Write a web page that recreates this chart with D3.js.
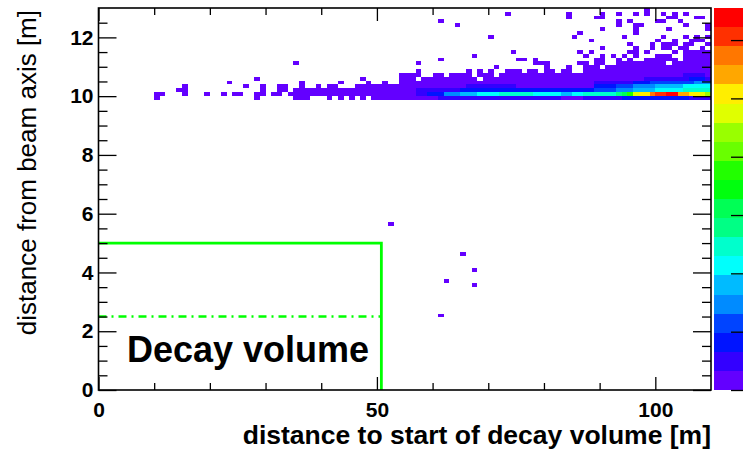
<!DOCTYPE html>
<html><head><meta charset="utf-8">
<script src="https://cdn.jsdelivr.net/npm/d3@7"></script>
<style>html,body{margin:0;padding:0;background:#fff;overflow:hidden}svg{display:block}</style>
</head><body><svg id="c" width="743" height="453"></svg>
<script>
// ---------------- data ----------------
const xDomain = [0, 110];          // distance to start of decay volume [m]
const yDomain = [0, 13];           // distance from beam axis [m]
const nBinsX = 110;                // 1 m bins
const nBinsY = 100;                // 0.13 m bins
const xMajorTicks = [0, 50, 100];
const xMinorTicks = [10, 20, 30, 40, 60, 70, 80, 90];
const yMajorTicks = [0, 2, 4, 6, 8, 10, 12];
const yMinorTicks = [0.5, 1, 1.5, 2.5, 3, 3.5, 4.5, 5, 5.5, 6.5, 7, 7.5, 8.5, 9, 9.5, 10.5, 11, 11.5, 12.5];
const nLevels = 20;                // colour contours of the z axis
const zMax = 655;
const zTicks = [0, 100, 200, 300, 400, 500, 600];
const decayLength = 50.8;          // green box: decay volume
const decayRadius = 5;
const innerRadius = 2.5;
const boxLabel = "Decay volume";
const xTitle = "distance to start of decay volume [m]";
const yTitle = "distance from beam axis [m]";

// y bin index of each row, and the colour level (1..20, base 36, '.' = empty) of x bins 0..109
const rowBins = [19, 27, 28, 31, 35, 43,
  76, 77, 78, 79, 80, 81, 82, 83, 84, 85, 86, 87, 88, 89, 90, 91, 92, 93, 94, 95, 96, 97, 98, 99];
const rowLevels = [
  ".......... .......... .......... .......... .......... .......... .1........ .......... .......... .......... ..........",
  ".......... .......... .......... .......... .......... .......... .......1.. .......... .......... .......... ..........",
  ".......... .......... .......... .......... .......... .......... ..1....... .......... .......... .......... ..........",
  ".......... .......... .......... .......... .......... .......... .......1.. .......... .......... .......... ..........",
  ".......... .......... .......... .......... .......... .......... .....1.... .......... .......... .......... ..........",
  ".......... .......... .......... .......... .......... ..1....... .......... .......... .......... .......... ..........",
  // 76
  ".......... 1......... ........1. .....111.. .1.1.1.1.1 1111111111 1222222222 2222222222 2221111222 2222333333 3333332222",
  // 77
  ".......... 11...1...1 ..1.11..11 .11.111111 1111111111 1111111223 3355566677 7788888877 7776677888 8889acfggi jjkkhhggfe",
  // 78
  ".......... ....11.... .........1 ..11.11111 1111111111 1111111222 2222233333 3333333333 3333333334 4445556666 7777788888",
  // 79
  ".......... .....1.... ......1..1 ..11..1..1 .11...1111 1111111111 1111112222 2222211111 1111111113 3334445555 6666677777",
  // 80
  ".......... .......... ...1...... ......1... ...1....1. .1..111111 1111111111 1111111111 1111111112 2222223334 4444444555",
  // 81
  ".......... .......... ........1. .......... .......1.. ....111.11 11111111.1 1111111111 1111111111 1111111122 2222223332",
  // 82
  ".......... .......... .......... .......... .......... ....1111.. 11.1111.11 1.11111111 1111111111 1111111111 1111122221",
  // 83
  ".......... .......... .......... .......... .......... .......1.. ......1.1. 1..111.11. 11.11..111 1111111111 1111111111",
  // 84
  ".......... .......... .......... .......... .......... .......... .......... .1........ 1...1..111 .111111111 1111111111",
  // 85
  ".......... .......... .......... .....1.... .......... .......1.. .......... ........11 1.....11.1 1..1111111 11.1111111",
  // 86
  ".......... .......... .......... .......... .......... .......... .1........ .....11.1. .........1 1..1.1..11 1111.11111",
  // 87
  ".......... .......... .......... .......... .......... .......... .......1.. .......... .......1.. 1.1.1.1... 111..11111",
  // 88
  ".......... .......... .......... .......... .......... .......... .......... ....1..... ......1.1. .....11.1. ...1.11111",
  // 89
  ".......... .......... .......... .......... .......... .......... .......... .......... .......... 1.....1..1 .11.11..1.",
  // 90
  ".......... .......... .......... .......... .......... .......... .......... .......... .......... .....1...1 .111.11..1",
  // 91
  ".......... .......... .......... .......... .......... .......... .......... .......... ........1. .......... 1..1..111.",
  // 92
  ".......... .......... .......... .......... .......... .......... .......... 1......... .....1.... ....1..... .1...1.1.1",
  // 93
  ".......... .......... .......... .......... .......... .......... .......... .......... ......1... ......1... ..........",
  // 94
  ".......... .......... .......... .......... .......... .......... .......... .......... .......... 1.....1... ..1......1",
  // 95
  ".......... .......... .......... .......... .......... .......... ....1..... .......... .......... ...1..11.. .....1...1",
  // 96
  ".......... .......... .......... .......... .......... .......... .1........ .......... .......... ...1.1.... 11..1.....",
  // 97
  ".......... .......... .......... .......... .......... .......... .......... .......... ....1....1 1......... ..11...11.",
  // 98
  ".......... .......... .......... .......... .......... .......... .......... ...1...... ....1..... 1..1..1.1. .1.1.1....",
  // 99
  ".......... .......... .......... .......... .......... .......... .......... .......... .......... ........1. .........."
];

// ---------------- drawing ----------------
const frame = {left: 98.5, right: 711, top: 8, bottom: 390};
const FONT = "'Liberation Sans', Arial, Helvetica, sans-serif";
const svg = d3.select("#c");
svg.append("rect").attr("width", 743).attr("height", 453).attr("fill", "#fff");

const x = d3.scaleLinear().domain(xDomain).range([frame.left, frame.right]);
const y = d3.scaleLinear().domain(yDomain).range([frame.bottom, frame.top]);
const z = d3.scaleLinear().domain([0, zMax]).range([frame.bottom, frame.top]);
const binW = (xDomain[1] - xDomain[0]) / nBinsX;
const binH = (yDomain[1] - yDomain[0]) / nBinsY;

// ROOT "pretty palette" violet -> red
const palette = d3.range(nLevels).map(k => {
  const idx = Math.floor((k + 0.99) * 50 / nLevels);
  return d3.hsl(280 - (idx + 1) * 5.6, 1, 0.5).formatHex();
});

const cells = [];
rowBins.forEach((j, r) => {
  const s = rowLevels[r].replace(/ /g, "");
  for (let i = 0; i < Math.min(s.length, nBinsX); i++) {
    if (s[i] !== ".") cells.push({i, j, level: parseInt(s[i], 36)});
  }
});
svg.append("g").attr("shape-rendering", "crispEdges")
  .selectAll("rect").data(cells).join("rect")
  .attr("x", d => Math.round(x(d.i * binW)))
  .attr("width", d => Math.round(x((d.i + 1) * binW)) - Math.round(x(d.i * binW)))
  .attr("y", d => Math.round(y((d.j + 1) * binH)))
  .attr("height", d => Math.round(y(d.j * binH)) - Math.round(y((d.j + 1) * binH)))
  .attr("fill", d => palette[d.level - 1]);

// green decay volume outline
const green = "#00ff00";
svg.append("path")
  .attr("d", d3.line()([[x(0), y(decayRadius)], [x(decayLength), y(decayRadius)], [x(decayLength), y(0)]]))
  .attr("fill", "none").attr("stroke", green).attr("stroke-width", 2.8);
svg.append("line")
  .attr("x1", x(0)).attr("x2", x(decayLength)).attr("y1", y(innerRadius)).attr("y2", y(innerRadius))
  .attr("stroke", green).attr("stroke-width", 2.6).attr("stroke-dasharray", "8,5,2,5");

svg.append("text").attr("x", 127).attr("y", 362)
  .attr("font-family", FONT).attr("font-weight", "bold").attr("font-size", 36)
  .attr("fill", "#000").text(boxLabel);

// frame
svg.append("rect").attr("x", frame.left).attr("y", frame.top)
  .attr("width", frame.right - frame.left).attr("height", frame.bottom - frame.top)
  .attr("fill", "none").attr("stroke", "#000").attr("stroke-width", 1.6);

function styleAxis(g, size) {
  g.select(".domain").remove();
  g.selectAll("line").attr("stroke", "#000").attr("stroke-width", 1.3);
  g.selectAll("text").attr("font-family", FONT).attr("font-weight", "bold")
    .attr("font-size", size).attr("fill", "#000");
}
// x axis (bottom labelled, top mirrored)
svg.append("g").attr("transform", `translate(0,${frame.bottom})`)
  .call(d3.axisBottom(x).tickValues(xMajorTicks).tickSizeInner(-13).tickSizeOuter(0).tickPadding(12).tickFormat(d3.format("d")))
  .call(g => styleAxis(g, 21));
svg.append("g").attr("transform", `translate(0,${frame.bottom})`)
  .call(d3.axisBottom(x).tickValues(xMinorTicks).tickSize(-7).tickFormat(""))
  .call(g => styleAxis(g, 21));
svg.append("g").attr("transform", `translate(0,${frame.top})`)
  .call(d3.axisTop(x).tickValues(xMajorTicks).tickSize(-13).tickFormat(""))
  .call(g => styleAxis(g, 21));
svg.append("g").attr("transform", `translate(0,${frame.top})`)
  .call(d3.axisTop(x).tickValues(xMinorTicks).tickSize(-7).tickFormat(""))
  .call(g => styleAxis(g, 21));
// y axis (left labelled, right mirrored)
svg.append("g").attr("transform", `translate(${frame.left},0)`)
  .call(d3.axisLeft(y).tickValues(yMajorTicks).tickSizeInner(-18).tickSizeOuter(0).tickPadding(5).tickFormat(d3.format("d")))
  .call(g => styleAxis(g, 21));
svg.append("g").attr("transform", `translate(${frame.left},0)`)
  .call(d3.axisLeft(y).tickValues(yMinorTicks).tickSize(-9).tickFormat(""))
  .call(g => styleAxis(g, 21));
svg.append("g").attr("transform", `translate(${frame.right},0)`)
  .call(d3.axisRight(y).tickValues(yMajorTicks).tickSize(-18).tickFormat(""))
  .call(g => styleAxis(g, 21));
svg.append("g").attr("transform", `translate(${frame.right},0)`)
  .call(d3.axisRight(y).tickValues(yMinorTicks).tickSize(-9).tickFormat(""))
  .call(g => styleAxis(g, 21));

// colour bar
svg.append("g").attr("shape-rendering", "crispEdges")
  .selectAll("rect").data(d3.range(nLevels)).join("rect")
  .attr("x", 714).attr("width", 32)
  .attr("y", k => z((k + 1) * zMax / nLevels))
  .attr("height", k => z(k * zMax / nLevels) - z((k + 1) * zMax / nLevels))
  .attr("fill", k => palette[k]);
svg.append("g").attr("transform", "translate(743,0)")
  .call(d3.axisRight(z).tickValues(zTicks).tickSize(-12).tickFormat(""))
  .call(g => styleAxis(g, 20));

// axis titles
svg.append("text").attr("x", frame.right).attr("y", 444).attr("text-anchor", "end")
  .attr("font-family", FONT).attr("font-weight", "bold").attr("font-size", 26.5)
  .attr("fill", "#000").text(xTitle);
svg.append("text").attr("transform", "translate(36,10) rotate(-90)").attr("text-anchor", "end")
  .attr("font-family", FONT).attr("font-size", 26)
  .attr("fill", "#000").text(yTitle);
</script></body></html>
